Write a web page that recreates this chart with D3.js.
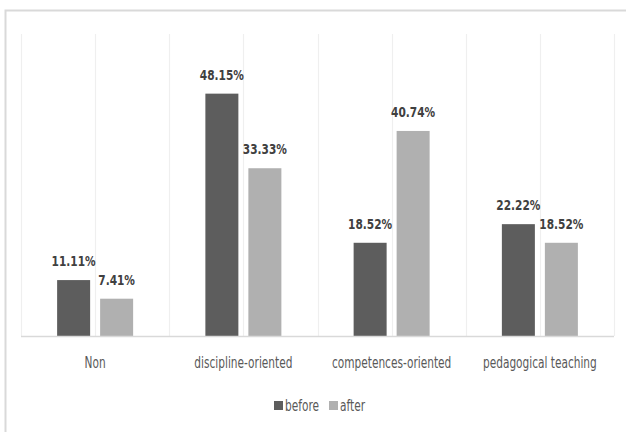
<!DOCTYPE html>
<html>
<head>
<meta charset="utf-8">
<script src="https://cdn.jsdelivr.net/npm/d3@7"></script>
<style>
  html, body { margin: 0; padding: 0; background: #fff; }
  svg { display: block; }
</style>
</head>
<body>
<script>
const categories = ["Non", "discipline-oriented", "competences-oriented", "pedagogical teaching"];
const seriesNames = ["before", "after"];
const beforeValues = [11.11, 48.15, 18.52, 22.22];
const afterValues = [7.41, 33.33, 40.74, 18.52];
const valueLabels = {
  before: ["11.11%", "48.15%", "18.52%", "22.22%"],
  after: ["7.41%", "33.33%", "40.74%", "18.52%"]
};
const yDomain = [0, 60];

const W = 626, H = 432;
const FONT = "'Liberation Sans Narrow', 'DejaVu Sans Condensed', 'Open Sans', sans-serif";
const colors = { before: "#5d5d5d", after: "#b0b0b0" };
const NARROW = 0.84;

const svg = d3.select("body").append("svg").attr("width", W).attr("height", H);

// outer chart frame (extends past right/bottom edges)
svg.append("rect")
  .attr("x", 5.5).attr("y", 10.5)
  .attr("width", W + 20).attr("height", H + 20)
  .attr("fill", "#fff").attr("stroke", "#d9d9d9").attr("stroke-width", 2);

const plot = { left: 21, right: 614, top: 34, bottom: 336 };

const x0 = d3.scaleBand().domain(categories).range([plot.left, plot.right]).paddingInner(0).paddingOuter(0);
const y = d3.scaleLinear().domain(yDomain).range([plot.bottom, plot.top]);

// vertical gridlines: category boundaries and centers
const gridXs = [];
categories.forEach(c => { gridXs.push(x0(c)); gridXs.push(x0(c) + x0.bandwidth() / 2); });
gridXs.push(plot.right);
svg.append("g").selectAll("line").data(gridXs).join("line")
  .attr("x1", d => Math.round(d) + 0.5).attr("x2", d => Math.round(d) + 0.5)
  .attr("y1", y(yDomain[1])).attr("y2", y(0))
  .attr("stroke", "#efefef").attr("stroke-width", 1.2);

const data = categories.map((c, i) => ({
  cat: c,
  vals: [
    { s: "before", v: beforeValues[i], label: valueLabels.before[i] },
    { s: "after", v: afterValues[i], label: valueLabels.after[i] }
  ]
}));

const barW = 33, gap = 10, step = barW + gap;
const groupW = 2 * step - gap;

const groups = svg.append("g").selectAll("g").data(data).join("g")
  .attr("transform", d => `translate(${x0(d.cat) + x0.bandwidth() / 2 - groupW / 2},0)`);

const x1 = d3.scaleBand().domain(seriesNames).range([0, groupW]).paddingInner(gap / step).paddingOuter(0);

groups.selectAll("rect").data(d => d.vals).join("rect")
  .attr("x", d => x1(d.s))
  .attr("y", d => y(d.v))
  .attr("width", x1.bandwidth())
  .attr("height", d => y(0) - y(d.v))
  .attr("fill", d => colors[d.s]);

groups.selectAll("text").data(d => d.vals).join("text")
  .attr("transform", d => `translate(${x1(d.s) + x1.bandwidth() / 2},${y(d.v) - 14}) scale(${NARROW},1.05)`)
  .attr("text-anchor", "middle")
  .attr("font-family", FONT)
  .attr("font-weight", "bold")
  .attr("font-size", 14)
  .attr("fill", "#404040")
  .text(d => d.label);

// baseline
svg.append("line")
  .attr("x1", plot.left).attr("x2", plot.right)
  .attr("y1", y(0) + 0.5).attr("y2", y(0) + 0.5)
  .attr("stroke", "#d9d9d9").attr("stroke-width", 1.5);

// category axis labels
const xAxis = d3.axisBottom(x0).tickSize(0).tickPadding(0);
const ax = svg.append("g").attr("transform", `translate(0,${y(0)})`).call(xAxis);
ax.select(".domain").remove();
ax.selectAll("text")
  .attr("y", 0).attr("dy", 0)
  .attr("transform", `translate(0,32) scale(${NARROW},1.08)`)
  .attr("font-family", FONT)
  .attr("font-size", 14)
  .attr("fill", "#595959");

// legend
const legend = svg.append("g");
const legendItems = [
  { s: "before", x: 274 },
  { s: "after", x: 329 }
];
const lg = legend.selectAll("g").data(legendItems).join("g")
  .attr("transform", d => `translate(${d.x},0)`);
lg.append("rect").attr("x", 0).attr("y", 401).attr("width", 9).attr("height", 9)
  .attr("fill", d => colors[d.s]);
lg.append("text")
  .attr("transform", `translate(11,411) scale(${NARROW},1.08)`)
  .attr("font-family", FONT).attr("font-size", 14).attr("fill", "#595959")
  .text(d => d.s);
</script>
</body>
</html>
